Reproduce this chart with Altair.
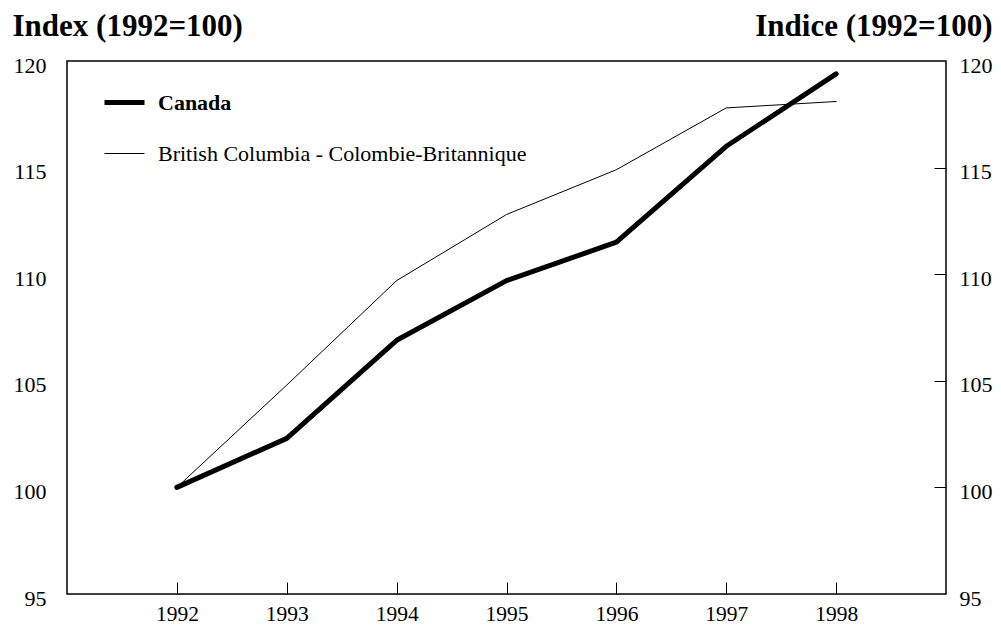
import altair as alt
import pandas as pd

years = [1992, 1993, 1994, 1995, 1996, 1997, 1998]
canada = [100.0, 102.3, 106.9, 109.7, 111.5, 116.0, 119.4]
bc = [100.0, 104.8, 109.7, 112.8, 114.9, 117.8, 118.1]
series_names = ["Canada", "British Columbia - Colombie-Britannique"]
y_ticks = [95, 100, 105, 110, 115, 120]
y_inner_ticks = [100, 105, 110, 115]

df = pd.DataFrame({
    "year": years * 2,
    "value": canada + bc,
    "series": [series_names[0]] * len(years) + [series_names[1]] * len(years),
})

W, H = 879, 533
FONT = "Liberation Serif"

xscale = alt.Scale(domain=[1991, 1999], nice=False, zero=False)
yscale = alt.Scale(domain=[95, 120], nice=False, zero=False)

base = alt.Chart(df)

lines = base.mark_line(color="black", strokeCap="round", strokeJoin="round").encode(
    x=alt.X("year:Q", scale=xscale,
            axis=alt.Axis(orient="bottom", values=years, format="d", ticks=False,
                          domain=False, grid=False, labelFontSize=21.5, labelPadding=9,
                          labelFont=FONT, labelColor="black", title=None)),
    y=alt.Y("value:Q", scale=yscale,
            axis=alt.Axis(orient="left", values=y_ticks, ticks=False, domain=False,
                          grid=False, labelFontSize=22, labelPadding=21, labelOffset=4,
                          labelFont=FONT, labelColor="black",
                          title="Index (1992=100)", titleAngle=0, titleAlign="left",
                          titleBaseline="alphabetic", titleX=-55, titleY=-26,
                          titleFont=FONT, titleFontSize=31, titleFontWeight="bold",
                          titleColor="black")),
    strokeWidth=alt.StrokeWidth(
        "series:N",
        scale=alt.Scale(domain=series_names, range=[5, 1]),
        legend=alt.Legend(
            title=None, orient="none", legendX=35, legendY=19,
            symbolType="stroke", symbolSize=1600, symbolStrokeColor="black",
            labelFont=FONT, labelFontSize=22, labelColor="black", labelOffset=11,
            labelFontWeight=alt.ExprRef("datum.label == 'Canada' ? 'bold' : 'normal'"),
            rowPadding=19, labelLimit=600,
        ),
    ),
)

ticks_layer = base.mark_line(opacity=0).encode(
    x=alt.X("year:Q", scale=xscale,
            axis=alt.Axis(orient="top", offset=-H, values=years, labels=False,
                          ticks=True, tickSize=12, tickColor="black", tickWidth=1,
                          domain=False, grid=False, title=None)),
    y=alt.Y("value:Q", scale=yscale,
            axis=alt.Axis(orient="right", values=y_ticks, ticks=False, domain=False,
                          grid=False, labelFontSize=22, labelPadding=13, labelOffset=4,
                          labelFont=FONT, labelColor="black",
                          title="Indice (1992=100)", titleAngle=0, titleAlign="right",
                          titleBaseline="alphabetic", titleX=46, titleY=-26,
                          titleFont=FONT, titleFontSize=31, titleFontWeight="bold",
                          titleColor="black")),
)

ticks_layer2 = base.mark_line(opacity=0).encode(
    x=alt.X("year:Q", scale=xscale, axis=None),
    y=alt.Y("value:Q", scale=yscale,
            axis=alt.Axis(orient="left", offset=-W, values=y_inner_ticks, labels=False,
                          ticks=True, tickSize=12, tickColor="black", tickWidth=1,
                          domain=False, grid=False, title=None)),
)

chart = alt.layer(lines, ticks_layer, ticks_layer2).resolve_axis(
    x="independent", y="independent"
).properties(
    width=W, height=H,
    autosize=alt.AutoSizeParams(type="none"),
    padding={"left": 59, "top": 53, "right": 47, "bottom": 33},
).configure_view(stroke="black", strokeWidth=1.5)

chart.save("out.html", embed_options={"renderer": "svg", "actions": False})
